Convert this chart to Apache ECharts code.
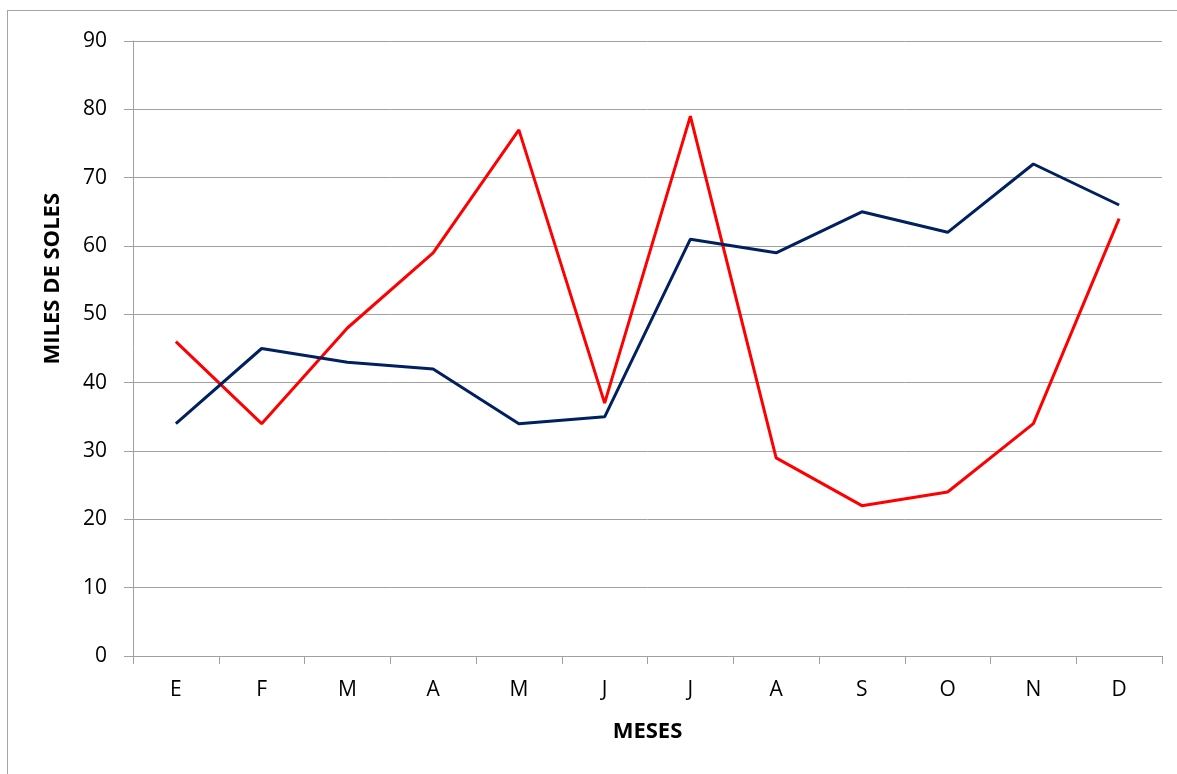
<!DOCTYPE html>
<html>
<head>
<meta charset="utf-8">
<script src="https://cdn.jsdelivr.net/npm/echarts@6/dist/echarts.min.js"></script>
<style>
  html, body { margin: 0; padding: 0; overflow: hidden; background: #fff; }
  #chart { width: 1177px; height: 774px; }
  .frame {
    position: absolute; left: 7px; top: 10px; width: 1300px; height: 900px;
    border: 1px solid #a6a6a6; pointer-events: none;
  }
</style>
</head>
<body>
<div id="chart"></div>
<div class="frame"></div>
<script>
// meses
const months = ['E', 'F', 'M', 'A', 'M', 'J', 'J', 'A', 'S', 'O', 'N', 'D']
// serie roja
const redValues = [46, 34, 48, 59, 77, 37, 79, 29, 22, 24, 34, 64]
// serie azul
const blueValues = [34, 45, 43, 42, 34, 35, 61, 59, 65, 62, 72, 66]

const font = '"Open Sans", "Noto Sans", sans-serif'
const gray = '#a0a0a0'

const chart = echarts.init(document.getElementById('chart'))
chart.setOption({
  animation: false,
  grid: { left: 133, right: 15, top: 41, bottom: 118 },
  xAxis: {
    type: 'category',
    data: months,
    boundaryGap: true,
    name: 'MESES',
    nameLocation: 'middle',
    nameGap: 65,
    nameTextStyle: { fontFamily: font, fontSize: 22, fontWeight: 'bold', color: '#000' },
    axisLine: { lineStyle: { color: gray, width: 1 } },
    axisTick: { show: true, length: 8, lineStyle: { color: gray } },
    axisLabel: { fontFamily: font, fontSize: 21, color: '#000', margin: 24 }
  },
  yAxis: {
    type: 'value',
    min: 0,
    max: 90,
    interval: 10,
    axisLine: { show: true, lineStyle: { color: gray, width: 1 } },
    axisTick: { show: true, length: 9, lineStyle: { color: gray } },
    axisLabel: { fontFamily: font, fontSize: 21, color: '#000', margin: 26 },
    splitLine: { lineStyle: { color: gray, width: 1 } }
  },
  graphic: [{
    type: 'text',
    left: 42,
    top: 193,
    rotation: Math.PI / 2,
    style: {
      text: 'MILES DE SOLES',
      font: 'bold 22px "Open Sans", "Noto Sans", sans-serif',
      fill: '#000'
    }
  }],
  series: [
    {
      name: 'rojo',
      type: 'line',
      data: redValues,
      symbol: 'none',
      lineStyle: { color: '#ff0000', width: 3 }
    },
    {
      name: 'azul',
      type: 'line',
      data: blueValues,
      symbol: 'none',
      lineStyle: { color: '#002060', width: 3 }
    }
  ]
})
</script>
</body>
</html>
